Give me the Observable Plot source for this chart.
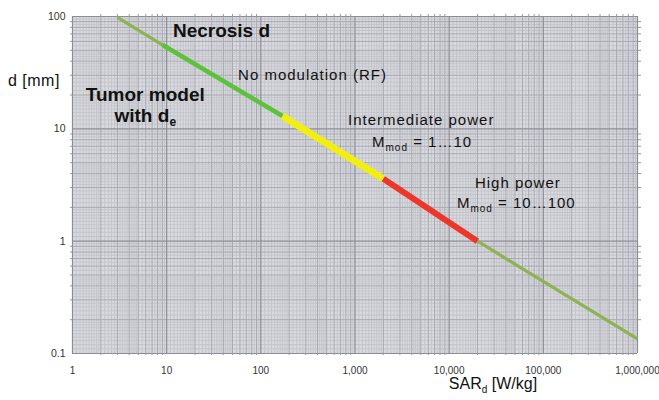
<!DOCTYPE html>
<html><head><meta charset="utf-8">
<script src="https://cdn.jsdelivr.net/npm/d3@7"></script>
<script src="https://cdn.jsdelivr.net/npm/@observablehq/plot@0.6"></script>
<style>
body{margin:0;background:#fff;font-family:"Liberation Sans",Arial,sans-serif}
#chart svg{display:block}
</style>
</head><body><div id="chart"></div>
<script>
// SAR_d [W/kg] vs necrosis diameter d [mm]
const sar = [3, 9, 170, 2000, 20000, 1000000];
const dmm = [98, 56, 13, 3.6, 1.0, 0.135];
// one regime per segment between consecutive points
const regime = ["thin", "No modulation", "Intermediate", "High power", "thin"];
const regimeColor = {"thin": "#8db352", "No modulation": "#5cc23c", "Intermediate": "#f1ee12", "High power": "#ee3529"};
const regimeWidth = {"thin": 3.2, "No modulation": 4.5, "Intermediate": 7, "High power": 6};

const xTicks = [1, 10, 100, 1000, 10000, 100000, 1000000];
const xTickLabels = ["1", "10", "100", "1,000", "10,000", "100,000", "1,000,000"];
const yTicks = [0.1, 1, 10, 100];
const yTickLabels = ["0.1", "1", "10", "100"];

const W = 659, H = 400;
const segs = regime.map((r, i) => ({r, x1: sar[i], y1: dmm[i], x2: sar[i + 1], y2: dmm[i + 1]}));

// log-paper grid values
function decadeVals(lo, hi, mults) {
  const out = [];
  for (let b = lo; b < hi * 0.999; b *= 10) for (const m of mults) out.push(+(b * m).toPrecision(6));
  return out;
}
const fineM = [1.1,1.2,1.3,1.4,1.5,1.6,1.7,1.8,1.9,2.2,2.4,2.6,2.8,3.2,3.4,3.6,3.8,4.2,4.4,4.6,4.8,5.5,6.5,7.5,8.5,9.5];
const minorM = [2,3,4,5,6,7,8,9];
const xFine = decadeVals(1, 1e6, fineM), xMinor = decadeVals(1, 1e6, minorM);
const yFine = decadeVals(0.1, 100, fineM), yMinor = decadeVals(0.1, 100, minorM);

const lbl = (ticks, labels) => d => labels[ticks.indexOf(d)] ?? "";

const plot = Plot.plot({
  width: W, height: H,
  marginLeft: 72, marginRight: 22, marginTop: 16, marginBottom: 47,
  style: {fontFamily: "Liberation Sans, Arial, sans-serif", background: "#fff"},
  x: {type: "log", domain: [1, 1e6]},
  y: {type: "log", domain: [0.1, 100]},
  marks: [
    Plot.frame({fill: "#d9dadf", stroke: null}),
    Plot.ruleX(xFine, {stroke: "#c4c5cb", strokeWidth: 1}),
    Plot.ruleY(yFine, {stroke: "#c4c5cb", strokeWidth: 1}),
    Plot.ruleX(xMinor, {stroke: "#a8aab1", strokeWidth: 1}),
    Plot.ruleY(yMinor, {stroke: "#a8aab1", strokeWidth: 1}),
    Plot.ruleX(xTicks, {stroke: "#8c8e96", strokeWidth: 1.2}),
    Plot.ruleY(yTicks, {stroke: "#8c8e96", strokeWidth: 1.2}),
    Plot.axisX(xMinor, {anchor: "top", tickSize: 3, stroke: "#999", tickFormat: () => "", label: null}),
    Plot.axisY(yMinor, {anchor: "right", tickSize: 3, stroke: "#999", tickFormat: () => "", label: null}),
    Plot.axisX(xMinor, {anchor: "bottom", tickSize: 2, stroke: "#999", tickFormat: () => "", label: null}),
    Plot.axisY(yMinor, {anchor: "left", tickSize: 2, stroke: "#999", tickFormat: () => "", label: null}),
    Plot.axisX(xTicks, {anchor: "bottom", tickSize: 0, tickPadding: 13, fontSize: 10, fill: "#333",
      tickFormat: lbl(xTicks, xTickLabels), label: null}),
    Plot.axisY(yTicks, {anchor: "left", tickSize: 0, tickPadding: 7, fontSize: 10.5, fill: "#333",
      tickFormat: lbl(yTicks, yTickLabels), label: null}),
    Plot.link(segs, {x1: "x1", y1: "y1", x2: "x2", y2: "y2",
      stroke: d => regimeColor[d.r], strokeWidth: d => regimeWidth[d.r], strokeLinecap: "butt"})
  ]
});
document.getElementById("chart").appendChild(plot);

// annotations (data coordinates, via the plot's scales)
const sx = plot.scale("x"), sy = plot.scale("y");
const svg = d3.select(plot);
const g = svg.append("g").attr("fill", "#111").attr("font-family", "Liberation Sans, Arial, sans-serif");
function addText(px, py, parts, opts = {}) {
  const t = g.append("text").attr("x", px).attr("y", py)
    .attr("font-size", opts.size || 15)
    .attr("font-weight", opts.bold ? "bold" : null)
    .attr("text-anchor", opts.anchor || "start")
    .attr("letter-spacing", opts.ls || 0);
  for (const p of parts) {
    if (typeof p === "string") t.append("tspan").text(p);
    else t.append("tspan").attr("font-size", p.size).attr("dy", p.dy).text(p.sub);
  }
  return t;
}
const X = v => sx.apply(v), Y = v => sy.apply(v);
addText(X(11.8), Y(65), ["Necrosis d"], {bold: true, size: 19});
addText(X(6), Y(17.5), ["Tumor model"], {bold: true, size: 19, anchor: "middle"});
addText(X(6), Y(11.4), ["with d", {sub: "e", size: 12, dy: 4}], {bold: true, size: 19, anchor: "middle"});
addText(X(58), Y(26.9), ["No modulation (RF)"], {size: 15, ls: 1});
addText(X(853), Y(10.7), ["Intermediate power"], {size: 15, ls: 1});
addText(X(1535), Y(6.8), ["M", {sub: "mod", size: 10, dy: 4}, {sub: " = 1…10", size: 15, dy: -4}], {size: 15, ls: 1});
addText(X(19000), Y(2.94), ["High power"], {size: 15, ls: 1});
addText(X(12250), Y(1.95), ["M", {sub: "mod", size: 10, dy: 4}, {sub: " = 10…100", size: 15, dy: -4}], {size: 15, ls: 1});
// axis titles
addText(8, Y(100) + 70, ["d [mm]"], {size: 16, ls: 0.5});
addText(X(100000) - 94, Y(0.1) + 36, ["SAR", {sub: "d", size: 10, dy: 4}, {sub: " [W/kg]", size: 16, dy: -4}], {size: 16});
</script>
</body></html>
